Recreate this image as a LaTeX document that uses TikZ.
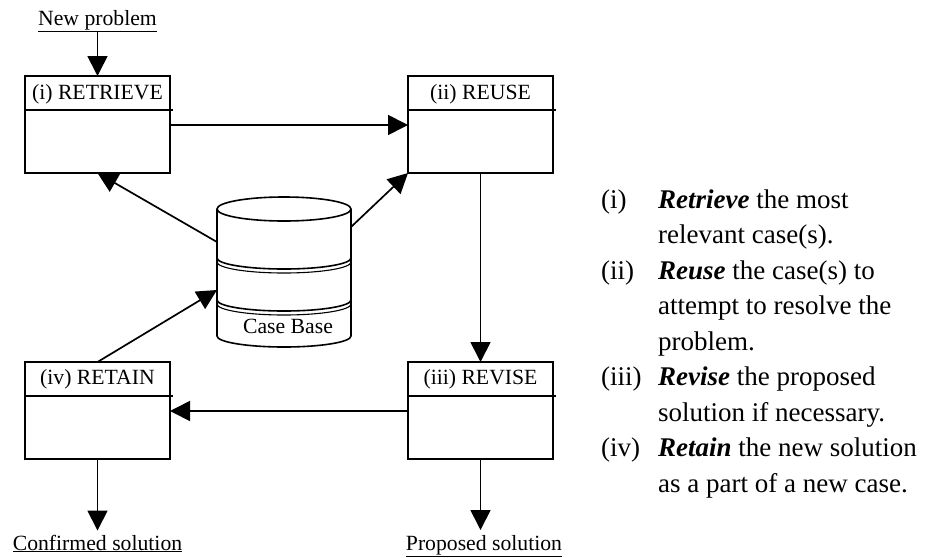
\documentclass[tikz,border=0pt]{standalone}
\usepackage{fontspec}
\setmainfont{Liberation Serif}
\usetikzlibrary{arrows.meta,calc}
\begin{document}
\begin{tikzpicture}[x=1pt,y=-1pt,
  box/.style={draw, line width=2pt, fill=white, minimum width=145pt, minimum height=97pt, inner sep=0pt, outer sep=0pt},
  hline/.style={line width=1.5pt},
  lbl/.style={font=\fontsize{21.7}{26}\selectfont, inner sep=0pt, anchor=base},
  item/.style={font=\fontsize{27}{32}\selectfont, inner sep=0pt, anchor=base west},
  arr/.style={line width=1.7pt, -{Triangle[length=20pt,width=20pt]}},
  cyl/.style={line width=1.6pt}]
\useasboundingbox (0,0) rectangle (925,557);

% process boxes
\node[box] (retrieve) at (97.5,124.5) {};
\node[box] (reuse)    at (480.5,124.5) {};
\node[box] (retain)   at (97.5,410.5) {};
\node[box] (revise)   at (480.5,410.5) {};

\foreach \b in {retrieve,reuse,retain,revise}
  \draw[hline] ($(\b.north west)+(1,34)$) -- ++(147,0);

\node[lbl] (tretrieve) at ($(retrieve.north)+(0,23)$) {(i) RETRIEVE};
\node[lbl] (treuse)    at ($(reuse.north)+(0,23)$) {(ii) REUSE};
\node[lbl] (tretain)   at ($(retain.north)+(0,22)$) {(iv) RETAIN};
\node[lbl] (trevise)   at ($(revise.north)+(0,22)$) {(iii) REVISE};

% input / output labels
\node[lbl] (newp) at (97.5,25) {\underline{New problem}};
\node[lbl] (conf) at (97.5,550) {\underline{Confirmed solution}};
\node[lbl] (prop) at (484,550) {\underline{Proposed solution}};

% case base cylinder
\draw[cyl, fill=white] (217,209) -- (217,336)
  arc[start angle=180, end angle=360, x radius=67pt, y radius=11pt] -- (351,209);
\draw[cyl, fill=white] (284,209) ellipse [x radius=67pt, y radius=12pt];
\foreach \yy in {258,300}
  \draw[cyl] (217,\yy) arc[start angle=180, end angle=360, x radius=67pt, y radius=11pt];
\foreach \yy in {262,304}
  \draw[line width=1.1pt] (217,\yy) arc[start angle=180, end angle=360, x radius=67pt, y radius=11pt];
\node[lbl] (cbtext) at (288,333) {Case Base};
\coordinate (cbL1) at (217,242);
\coordinate (cbR)  at (351,227);
\coordinate (cbL2) at (217,290);

% connectors
\draw[arr] (newp.south) -- (retrieve.north);
\draw[arr] (retrieve.east |- 0,125) -- (reuse.west |- 0,125);
\draw[arr] (reuse.south) -- (revise.north);
\draw[arr] (revise.west |- 0,411) -- (retain.east |- 0,411);
\draw[arr] (retain.south) -- ($(conf.north)+(0,-4)$);
\draw[arr] (revise.south) -- (revise.south |- 0,530);
\draw[arr] (cbL1) -- (retrieve.south);
\draw[arr] (cbR) -- (reuse.south west);
\draw[arr] (retain.north) -- (cbL2);

% explanatory list
\node[item] (n1) at (601,208) {(i)};
\node[item] (l1) at (658,208) {\textbf{\textit{Retrieve}} the most};
\node[item] (l2) at (658,243.5) {relevant case(s).};
\node[item] (n2) at (601,279) {(ii)};
\node[item] (l3) at (658,279) {\textbf{\textit{Reuse}} the case(s) to};
\node[item] (l4) at (658,314.5) {attempt to resolve the};
\node[item] (l5) at (658,350) {problem.};
\node[item] (n3) at (601,385.5) {(iii)};
\node[item] (l6) at (658,385.5) {\textbf{\textit{Revise}} the proposed};
\node[item] (l7) at (658,421) {solution if necessary.};
\node[item] (n4) at (601,456.5) {(iv)};
\node[item] (l8) at (658,456.5) {\textbf{\textit{Retain}} the new solution};
\node[item] (l9) at (658,492) {as a part of a new case.};
\end{tikzpicture}
\end{document}
